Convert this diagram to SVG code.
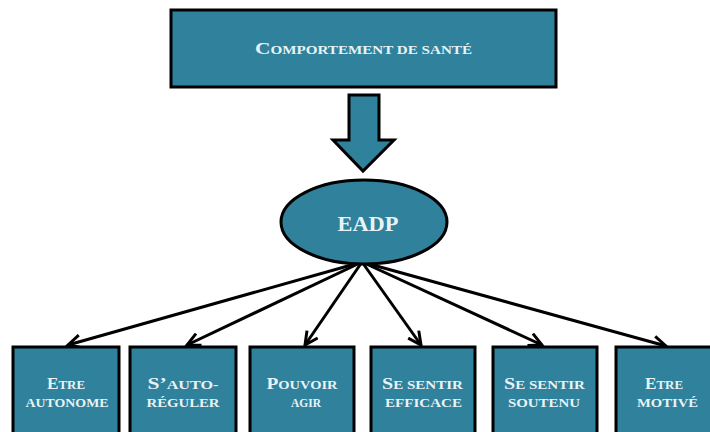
<svg xmlns="http://www.w3.org/2000/svg" width="710" height="432" viewBox="0 0 710 432">
<defs>
<style>
.box{fill:#2f819c;stroke:#000;stroke-width:3}
.t{font-family:"Liberation Serif","Times New Roman",serif;font-weight:bold;fill:#e8f3f6;text-anchor:middle}
.b{font-size:16px}
.s{font-size:12px}
.con{stroke:#000;stroke-width:3;fill:none;marker-end:url(#ah)}
</style>
<marker id="ah" markerUnits="userSpaceOnUse" markerWidth="17" markerHeight="16" refX="14" refY="7.5" orient="auto" viewBox="0 0 17 15">
<path d="M1,1 L14,7.5 L1,14" fill="none" stroke="#000" stroke-width="3" stroke-linejoin="miter"/>
</marker>
</defs>
<rect width="710" height="432" fill="#fff"/>
<g id="comportement">
<rect class="box" x="171" y="10" width="385" height="77"/>
<text class="t" x="363.5" y="54" textLength="217" lengthAdjust="spacingAndGlyphs"><tspan style="font-size:17px">C</tspan><tspan style="font-size:12px">OMPORTEMENT DE SANTÉ</tspan></text>
</g>
<g id="big-arrow">
<polygon class="box" points="349,95 379,95 379,140 394,140 363,171 333,140 349,140"/>
</g>
<g id="connectors">
<line class="con" x1="362" y1="262" x2="68" y2="345"/>
<line class="con" x1="362" y1="262" x2="187" y2="345"/>
<line class="con" x1="362" y1="262" x2="305" y2="345"/>
<line class="con" x1="362" y1="262" x2="421" y2="345"/>
<line class="con" x1="362" y1="262" x2="542" y2="345"/>
<line class="con" x1="362" y1="262" x2="666" y2="346"/>
</g>
<g id="eadp">
<ellipse class="box" cx="364" cy="222" rx="83" ry="42"/>
<text class="t" x="368" y="231" style="font-size:20px" textLength="61" lengthAdjust="spacingAndGlyphs">EADP</text>
</g>
<g id="etre-autonome">
<rect class="box" x="13" y="347" width="106" height="92"/>
<text class="t" x="66" y="389" textLength="38" lengthAdjust="spacingAndGlyphs"><tspan class="b">E</tspan><tspan class="s">TRE</tspan></text>
<text class="t s" x="67" y="407" textLength="83" lengthAdjust="spacingAndGlyphs">AUTONOME</text>
</g>
<g id="s-autoreguler">
<rect class="box" x="130" y="347" width="106" height="92"/>
<text class="t" x="183" y="389" textLength="71" lengthAdjust="spacingAndGlyphs"><tspan class="b">S’</tspan><tspan class="s">AUTO-</tspan></text>
<text class="t s" x="183" y="407" textLength="73" lengthAdjust="spacingAndGlyphs">RÉGULER</text>
</g>
<g id="pouvoir-agir">
<rect class="box" x="250" y="347" width="104" height="92"/>
<text class="t" x="302" y="389" textLength="71" lengthAdjust="spacingAndGlyphs"><tspan class="b">P</tspan><tspan class="s">OUVOIR</tspan></text>
<text class="t s" x="306" y="407" textLength="30" lengthAdjust="spacingAndGlyphs">AGIR</text>
</g>
<g id="se-sentir-efficace">
<rect class="box" x="371" y="347" width="104" height="92"/>
<text class="t" x="422.5" y="389" textLength="81" lengthAdjust="spacingAndGlyphs"><tspan class="b">S</tspan><tspan class="s">E SENTIR</tspan></text>
<text class="t s" x="423.5" y="407" textLength="77" lengthAdjust="spacingAndGlyphs">EFFICACE</text>
</g>
<g id="se-sentir-soutenu">
<rect class="box" x="493" y="347" width="104" height="92"/>
<text class="t" x="544.5" y="389" textLength="81" lengthAdjust="spacingAndGlyphs"><tspan class="b">S</tspan><tspan class="s">E SENTIR</tspan></text>
<text class="t s" x="544" y="407" textLength="72" lengthAdjust="spacingAndGlyphs">SOUTENU</text>
</g>
<g id="etre-motive">
<rect class="box" x="616" y="347" width="106" height="92"/>
<text class="t" x="664" y="389" textLength="38" lengthAdjust="spacingAndGlyphs"><tspan class="b">E</tspan><tspan class="s">TRE</tspan></text>
<text class="t s" x="667.5" y="407" textLength="61" lengthAdjust="spacingAndGlyphs">MOTIVÉ</text>
</g>
</svg>
